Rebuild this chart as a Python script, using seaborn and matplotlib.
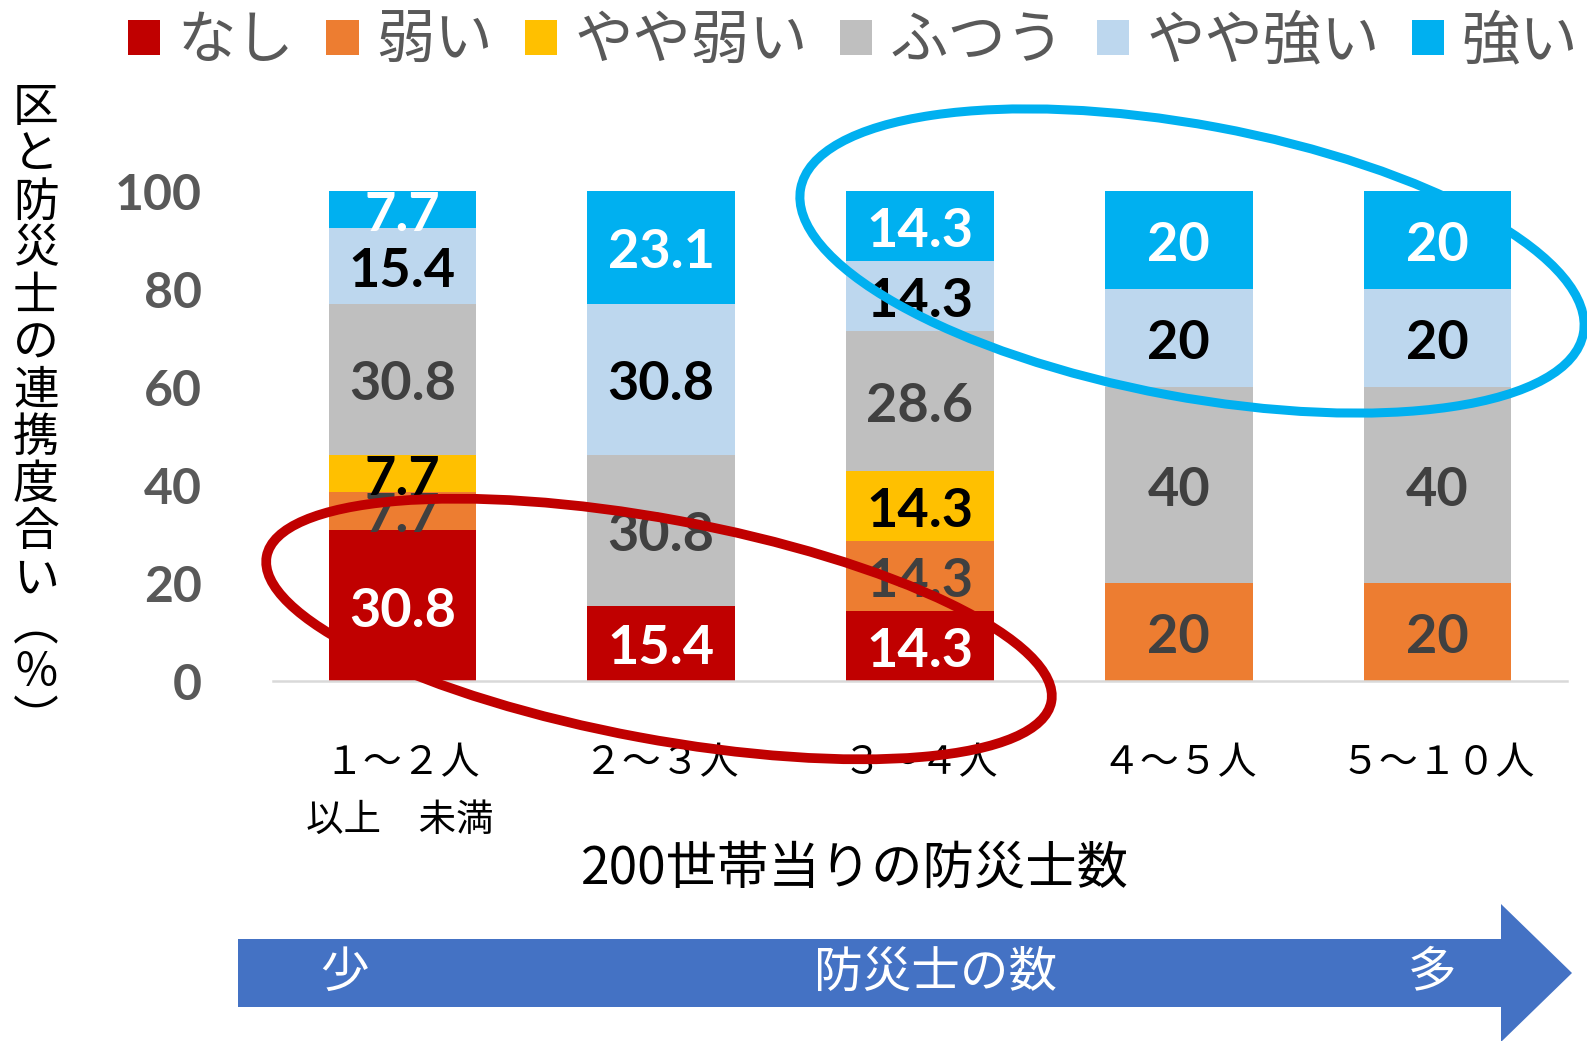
import matplotlib
matplotlib.use("Agg")
import matplotlib.pyplot as plt
from matplotlib.patches import Ellipse, Polygon, Patch
import numpy as np
import seaborn as sns

# 200世帯当りの防災士数 (category) x 連携度合い (%)
GROUPS = ["１～２人", "２～３人", "３～４人", "４～５人", "５～１０人"]
SERIES = ["なし", "弱い", "やや弱い", "ふつう", "やや強い", "強い"]

NASHI = [30.8, 15.4, 14.3, 0, 0]
YOWAI = [7.7, 0, 14.3, 20, 20]
YAYA_YOWAI = [7.7, 0, 14.3, 0, 0]
FUTSUU = [30.8, 30.8, 28.6, 40, 40]
YAYA_TSUYOI = [15.4, 30.8, 14.3, 20, 20]
TSUYOI = [7.7, 23.1, 14.3, 20, 20]

COLORS = ["#C00000", "#ED7D31", "#FFC000", "#BFBFBF", "#BDD7EE", "#00B0F0"]
LABEL_COLORS = ["white", "#404040", "black", "#404040", "black", "white"]

YLABEL = "区と防災士の連携度合い︵％︶"
XLABEL = "200世帯当りの防災士数"
ARROW_TEXTS = ["少", "防災士の数", "多"]

sns.set_style("white")
plt.rcParams["font.family"] = ["Noto Sans CJK JP", "DejaVu Sans"]

W, H = 1587, 1041
fig, ax = plt.subplots(figsize=(W / 100, H / 100), dpi=100)
fig.subplots_adjust(left=273 / W, right=1567 / W, bottom=1 - 681 / H, top=1 - 191 / H)

values = [NASHI, YOWAI, YAYA_YOWAI, FUTSUU, YAYA_TSUYOI, TSUYOI]
bottom = np.zeros(len(GROUPS))
for name, vals, color in zip(SERIES, values, COLORS):
    sns.barplot(x=GROUPS, y=vals, order=GROUPS, color=color, saturation=1,
                width=0.57, bottom=bottom.copy(), errorbar=None, linewidth=0, ax=ax)
    bottom += np.array(vals)

for cont, vals, tcolor in zip(ax.containers, values, LABEL_COLORS):
    labels = [f"{v:g}" if v > 0 else "" for v in vals]
    anns = ax.bar_label(cont, labels=labels, label_type="center", color=tcolor,
                        fontsize=39, fontweight="bold", family="Lato")
    for a in anns:
        a.set_position((0, -4))  # nudge down a little, Lato sits high

ax.set_xlim(-0.5, len(GROUPS) - 0.5)
ax.set_ylim(0, 100)
ax.set_yticks(range(0, 101, 20))
ax.set_yticklabels([str(v) for v in range(0, 101, 20)], fontsize=36,
                   fontweight="bold", color="#595959", family="Lato")
ax.tick_params(axis="y", length=0, pad=51)
ax.set_xticks(range(len(GROUPS)))
ax.set_xticklabels(GROUPS, fontsize=28, color="black")
ax.tick_params(axis="x", length=0, pad=45)
ax.set_xlabel("")
ax.set_ylabel("")
if ax.get_legend():
    ax.get_legend().remove()

sns.despine(ax=ax, left=True)
ax.spines["bottom"].set_color("#D9D9D9")
ax.spines["bottom"].set_linewidth(1.8)

ax.text(-0.01, -0.285, "以上　未満", transform=ax.get_xaxis_transform(),
        ha="center", va="center", fontsize=27, color="black")

fig.text(855 / W, 1 - 869 / H, XLABEL, ha="center", va="center", fontsize=37, color="black")

# vertical y label, one upright character per line
for i, ch in enumerate(YLABEL):
    fig.text(36 / W, 1 - (108 + i * 47.1) / H, ch, ha="center", va="center",
             fontsize=33, color="black")

handles = [Patch(facecolor=c, edgecolor="none") for c in COLORS]
fig.legend(handles, SERIES, loc="center left", bbox_to_anchor=(128 / W, 1 - 41.5 / H),
           ncol=6, frameon=False, fontsize=42, labelcolor="#595959",
           handlelength=0.55, handleheight=0.55, handletextpad=0.3,
           columnspacing=0.55, borderpad=0, borderaxespad=0)

# overlay in pixel coordinates for the ellipses and arrow
ov = fig.add_axes([0, 0, 1, 1], zorder=5)
ov.set_xlim(0, W)
ov.set_ylim(H, 0)
ov.axis("off")

ov.add_patch(Ellipse((1192, 261), 796, 272, angle=10.5, fill=False,
                     edgecolor="#00B0F0", linewidth=6.5))
ov.add_patch(Ellipse((659, 629), 798, 220, angle=10.5, fill=False,
                     edgecolor="#C00000", linewidth=7))

ov.add_patch(Polygon([(238, 939), (1501, 939), (1501, 904), (1572, 973),
                      (1501, 1042), (1501, 1007), (238, 1007)],
                     closed=True, facecolor="#4472C4", edgecolor="none"))
for txt, xp in zip(ARROW_TEXTS, [344, 936, 1432]):
    ov.text(xp, 973, txt, ha="center", va="center", fontsize=35, color="white")

fig.savefig("out.png", dpi=100)
